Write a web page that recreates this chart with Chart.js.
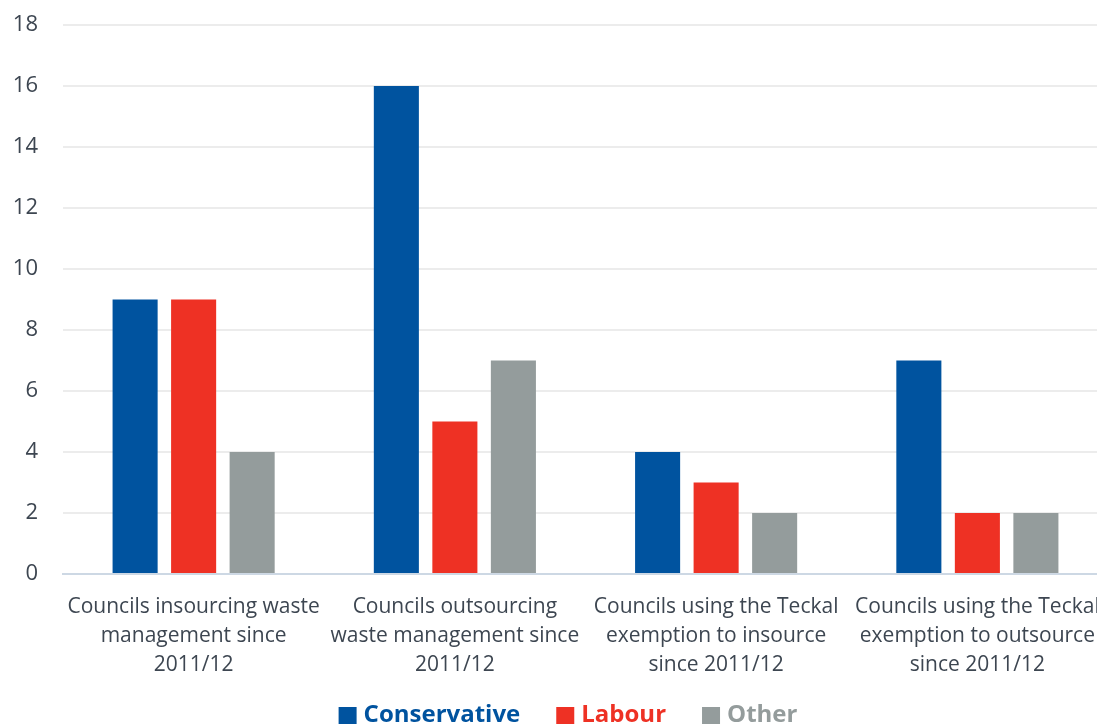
<!DOCTYPE html>
<html>
<head>
<meta charset="utf-8">
<script src="https://cdn.jsdelivr.net/npm/chart.js@4/dist/chart.umd.min.js"></script>
<style>
html,body{margin:0;padding:0;background:#fff;overflow:hidden;width:1097px;height:724px}
#wrap{width:1108px;height:724px;position:relative}
</style>
</head>
<body>
<div id="wrap"><canvas id="c"></canvas></div>
<script>
const categories = [
  ["Councils insourcing waste", "management since", "2011/12"],
  ["Councils outsourcing", "waste management since", "2011/12"],
  ["Councils using the Teckal", "exemption to insource", "since 2011/12"],
  ["Councils using the Teckal", "exemption to outsource", "since 2011/12"]
];
const seriesNames = ["Conservative", "Labour", "Other"];
const conservative = [9, 16, 4, 7];
const labour = [9, 5, 3, 2];
const other = [4, 7, 2, 2];
const yTicks = [0, 2, 4, 6, 8, 10, 12, 14, 16, 18];

const colors = ["#00539f", "#ee3124", "#949c9c"];
const textColor = "#3d4651";
const fontFamily = "'Open Sans', sans-serif";

// Legend drawn below the axis labels, centred like the original
const bottomLegend = {
  id: 'bottomLegend',
  afterDraw(chart) {
    const ctx = chart.ctx;
    const box = 18, gapText = 7, gapItem = 36;
    ctx.save();
    ctx.font = "bold 24px " + fontFamily;
    const widths = seriesNames.map(n => ctx.measureText(n).width);
    const total = widths.reduce((a, w) => a + box + gapText + w, 0) + gapItem * (seriesNames.length - 1);
    let x = 568 - total / 2;
    const baseline = 722;
    ctx.textBaseline = 'alphabetic';
    ctx.textAlign = 'left';
    seriesNames.forEach((n, i) => {
      ctx.fillStyle = colors[i];
      ctx.fillRect(x, 707, box, box);
      x += box + gapText;
      ctx.fillText(n, x, baseline);
      x += widths[i] + gapItem;
    });
    ctx.restore();
  }
};

new Chart(document.getElementById('c'), {
  type: 'bar',
  data: {
    labels: categories,
    datasets: [conservative, labour, other].map((d, i) => ({
      label: seriesNames[i],
      data: d,
      backgroundColor: colors[i],
      borderWidth: 0,
      categoryPercentage: 0.672,
      barPercentage: 0.77
    }))
  },
  plugins: [bottomLegend],
  options: {
    responsive: true,
    maintainAspectRatio: false,
    animation: false,
    layout: { padding: { top: 25, right: 0, left: 0, bottom: 0 } },
    plugins: {
      tooltip: { enabled: false },
      legend: { display: false }
    },
    scales: {
      x: {
        grid: { display: false },
        border: { display: true, color: '#cdd8e4', width: 2 },
        ticks: {
          color: textColor,
          font: { family: fontFamily, size: 21, lineHeight: 1.38 },
          padding: 11,
          maxRotation: 0,
          autoSkip: false
        },
        afterFit(scale) {
          scale.height = 150;
          scale.paddingLeft = 0; scale.paddingRight = 0;
        }
      },
      y: {
        min: 0,
        max: 18,
        afterBuildTicks(scale) { scale.ticks = yTicks.map(v => ({ value: v })); },
        grid: {
          color: ctx => ctx.tick && ctx.tick.value === 0 ? '#cdd8e4' : '#ececec',
          lineWidth: 2,
          drawTicks: false
        },
        border: { display: false },
        ticks: {
          color: textColor,
          font: { family: fontFamily, size: 22 },
          padding: 25
        },
        afterFit(scale) {
          scale.width = 63;
          scale.paddingTop = 0; scale.paddingBottom = 0;
        }
      }
    }
  }
});
</script>
</body>
</html>
